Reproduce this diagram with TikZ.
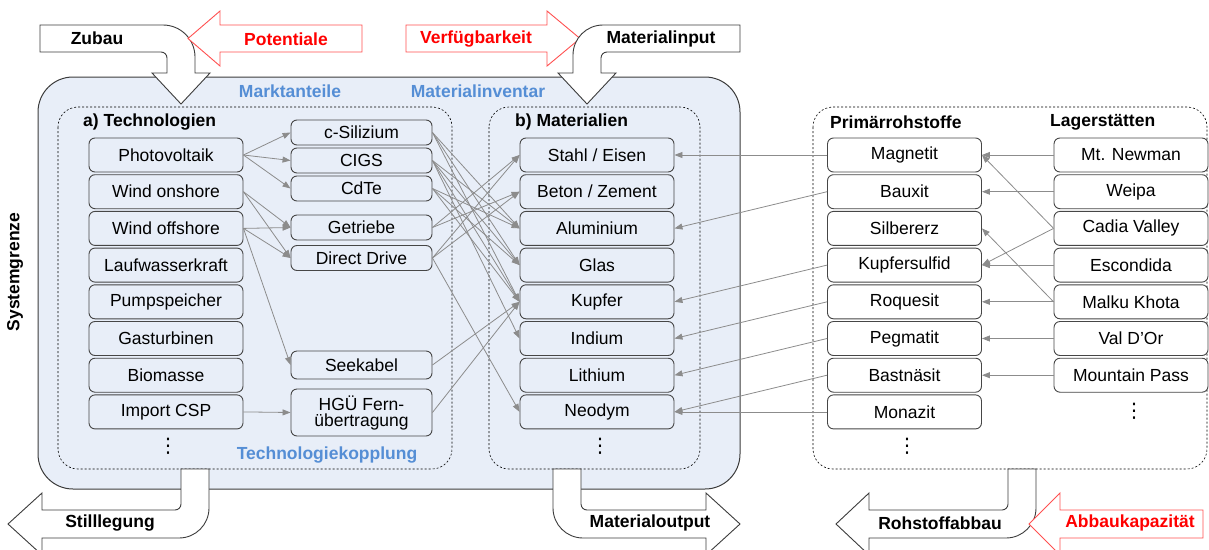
\documentclass[tikz,border=0pt]{standalone}
\usepackage{fontspec}
\setmainfont{Liberation Sans}
\newfontfamily\dejavu{DejaVu Sans}
\usetikzlibrary{arrows.meta}
\definecolor{bluebg}{RGB}{232,238,248}
\definecolor{nodeborder}{RGB}{70,70,70}
\definecolor{bluetxt}{RGB}{85,142,213}
\definecolor{congray}{RGB}{140,140,140}
\definecolor{redline}{RGB}{255,80,80}
\definecolor{redtxt}{RGB}{255,0,0}
\definecolor{darkline}{RGB}{60,60,60}
\newcommand\fs{\fontsize{17.5}{16}\selectfont}
\tikzset{
  tech/.style={draw=nodeborder, fill=bluebg, rounded corners=6pt, minimum width=154pt, minimum height=34pt, inner sep=0pt, font=\fs, line width=0.9pt, align=center},
  subt/.style={tech, minimum width=141pt, minimum height=25pt},
  raw/.style={tech, fill=white},
  con/.style={draw=congray, line width=0.8pt, -{Triangle[length=8pt,width=6pt]}},
  hd/.style={font=\fs\bfseries, anchor=west, inner sep=0pt},
  blu/.style={font=\fs\bfseries, text=bluetxt, inner sep=0pt},
  lbl/.style={font=\fs\bfseries, inner sep=0pt},
  rlbl/.style={font=\fs\bfseries, text=redtxt, inner sep=0pt},
  blk/.style={draw=darkline, fill=white, line width=0.9pt, line join=miter},
  redarrow/.style={draw=redline, fill=white, line width=0.9pt},
  dbox/.style={draw=black, line width=0.6pt, dash pattern=on 2pt off 2pt, rounded corners=20pt},
  dots/.style={font=\dejavu\fontsize{20}{20}\selectfont, inner sep=0pt},
}
\begin{document}
\begin{tikzpicture}[x=1pt,y=-1pt]
\path[use as bounding box] (0,0) rectangle (1209,549);
\clip (0,0) rectangle (1209,549);

% system boundary box
\draw[draw=darkline, fill=bluebg, line width=1pt, rounded corners=35pt] (38,77) rectangle (740,489);
\draw[dbox] (58,107) rectangle (452,469);
\draw[dbox] (489,107) rectangle (700,469);
\draw[dbox] (813,107) rectangle (1207,469);

\node[lbl, rotate=90] (sys) at (15,272) {Systemgrenze};
\node[blu] (markt) at (290,91) {Marktanteile};
\node[blu] (inv) at (478,91) {Materialinventar};
\node[blu] (kopp) at (327,455) {Technologiekopplung};

% top arrows
\draw[blk] (40,25) -- (163,25) .. controls (180.7,25) and (195,39.3) .. (195,57) -- (195,73) -- (210,73) -- (181,104) -- (152,73) -- (167,73) -- (167,58) .. controls (167,54.7) and (164.3,52) .. (161,52) -- (40,52) -- cycle;
\node[lbl] (zubau) at (97,38) {Zubau};
\draw[redarrow] (362,25) -- (220,25) -- (220,11) -- (188,38.5) -- (220,66) -- (220,52) -- (362,52) -- cycle;
\node[rlbl] (pot) at (286,39) {Potentiale};
\draw[redarrow] (406,25) -- (547,25) -- (547,11) -- (580,38.5) -- (547,66) -- (547,52) -- (406,52) -- cycle;
\node[rlbl] (verf) at (476,39) {Verfügbarkeit};
\draw[blk] (740,25) -- (603,25) .. controls (586.4,25) and (573,38.4) .. (573,55) -- (573,73) -- (558,73) -- (587,104) -- (616,73) -- (601,73) -- (601,58) .. controls (601,54.7) and (603.7,52) .. (607,52) -- (740,52) -- cycle;
\node[lbl] (minput) at (661,39) {Materialinput};

% bottom arrows
\draw[blk] (181,469) -- (209,469) -- (209,508) .. controls (209,524.6) and (195.6,538) .. (179,538) -- (42,538) -- (42,555) -- (8,524) -- (42,493) -- (42,510) -- (175,510) .. controls (178.3,510) and (181,507.3) .. (181,504) -- cycle;
\node[lbl] (still) at (110,523) {Stilllegung};
\draw[blk] (581,469) -- (553,469) -- (553,508) .. controls (553,524.6) and (566.4,538) .. (583,538) -- (706,538) -- (706,555) -- (740,524) -- (706,493) -- (706,510) -- (587,510) .. controls (583.7,510) and (581,507.3) .. (581,504) -- cycle;
\node[lbl] (moutput) at (650,523) {Materialoutput};
\draw[blk] (1008,469) -- (1036,469) -- (1036,508) .. controls (1036,524.6) and (1022.6,538) .. (1006,538) -- (869,538) -- (869,555) -- (836,524) -- (869,493) -- (869,510) -- (1002,510) .. controls (1005.3,510) and (1008,507.3) .. (1008,504) -- cycle;
\node[lbl] (abbau) at (940,523) {Rohstoffabbau};
\draw[redarrow] (1203,510) -- (1060,510) -- (1060,493) -- (1029,524) -- (1060,555) -- (1060,538) -- (1203,538) -- cycle;
\node[rlbl] (kap) at (1130,523) {Abbaukapazität};

% headings
\node[hd] (ha) at (83,122) {a) Technologien};
\node[hd] (hb) at (515,122) {b) Materialien};
\node[hd] (hc) at (830,122) {Primärrohstoffe};
\node[hd] (hd) at (1050,122) {Lagerstätten};

% technologies
\node[tech] (pv) at (166,155) {Photovoltaik};
\node[tech] (won) at (166,191.7) {Wind onshore};
\node[tech] (woff) at (166,228.4) {Wind offshore};
\node[tech] (lauf) at (166,265.1) {Laufwasserkraft};
\node[tech] (pump) at (166,301.8) {Pumpspeicher};
\node[tech] (gas) at (166,338.5) {Gasturbinen};
\node[tech] (bio) at (166,375.2) {Biomasse};
\node[tech] (csp) at (166,411.9) {Import CSP};
\node[dots] (tdots) at (168,446) {⋮};

% sub technologies
\node[subt] (csi) at (361.5,132.5) {c-Silizium};
\node[subt] (cigs) at (361.5,160.5) {CIGS};
\node[subt] (cdte) at (361.5,188.5) {CdTe};
\node[subt] (getr) at (361.5,227.5) {Getriebe};
\node[subt] (dd) at (361.5,258) {Direct Drive};
\node[subt, minimum height=28pt] (see) at (361.5,365) {Seekabel};
\node[subt, minimum height=47pt] (hgu) at (361.5,412.5) {HGÜ Fern-\\übertragung};

% materials
\node[tech] (stahl) at (597,155) {Stahl / Eisen};
\node[tech] (beton) at (597,191.7) {Beton / Zement};
\node[tech] (alu) at (597,228.4) {Aluminium};
\node[tech] (glas) at (597,265.1) {Glas};
\node[tech] (kupf) at (597,301.8) {Kupfer};
\node[tech] (ind) at (597,338.5) {Indium};
\node[tech] (lith) at (597,375.2) {Lithium};
\node[tech] (neo) at (597,411.9) {Neodym};
\node[dots] (mdots) at (600,446) {⋮};

% raw materials
\node[raw] (magn) at (904.5,155) {Magnetit};
\node[raw] (baux) at (904.5,191.7) {Bauxit};
\node[raw] (silb) at (904.5,228.4) {Silbererz};
\node[raw] (ksulf) at (904.5,265.1) {Kupfersulfid};
\node[raw] (roq) at (904.5,301.8) {Roquesit};
\node[raw] (peg) at (904.5,338.5) {Pegmatit};
\node[raw] (bast) at (904.5,375.2) {Bastnäsit};
\node[raw] (mona) at (904.5,411.9) {Monazit};
\node[dots] (rdots) at (907,446) {⋮};

% deposits
\node[raw] (newm) at (1131,155) {Mt. Newman};
\node[raw] (weipa) at (1131,191.7) {Weipa};
\node[raw] (cadia) at (1131,228.4) {Cadia Valley};
\node[raw] (escon) at (1131,265.1) {Escondida};
\node[raw] (malku) at (1131,301.8) {Malku Khota};
\node[raw] (valdor) at (1131,338.5) {Val D'Or};
\node[raw] (mpass) at (1131,375.2) {Mountain Pass};
\node[dots] (ldots) at (1134,411) {⋮};

% tech -> sub
\draw[con] (pv.east) -- (csi.west);
\draw[con] (pv.east) -- (cigs.west);
\draw[con] (pv.east) -- (cdte.west);
\draw[con] (won.east) -- (getr.west);
\draw[con] (won.east) -- (dd.west);
\draw[con] (woff.east) -- (getr.west);
\draw[con] (woff.east) -- (dd.west);
\draw[con] (woff.east) -- (see.west);
\draw[con] (csp.east) -- (hgu.west);

% sub -> materials
\foreach \s in {csi,cigs,cdte}{
  \draw[con] (\s.east) -- (alu.west);
  \draw[con] (\s.east) -- (glas.west);
  \draw[con] (\s.east) -- (kupf.west);
}
\draw[con] (cigs.east) -- (ind.west);
\draw[con] (getr.east) -- (stahl.west);
\draw[con] (getr.east) -- (beton.west);
\draw[con] (dd.east) -- (stahl.west);
\draw[con] (dd.east) -- (beton.west);
\draw[con] (dd.east) -- (neo.west);
\draw[con] (see.east) -- (kupf.west);
\draw[con] (hgu.east) -- (kupf.west);

% raw -> materials
\draw[con] (magn.west) -- (stahl.east);
\draw[con] (baux.west) -- (alu.east);
\draw[con] (ksulf.west) -- (kupf.east);
\draw[con] (roq.west) -- (ind.east);
\draw[con] (peg.west) -- (lith.east);
\draw[con] (bast.west) -- (neo.east);
\draw[con] (mona.west) -- (neo.east);

% deposits -> raw
\draw[con] (newm.west) -- (magn.east);
\draw[con] (weipa.west) -- (baux.east);
\draw[con] (cadia.west) -- (magn.east);
\draw[con] (cadia.west) -- (ksulf.east);
\draw[con] (escon.west) -- (ksulf.east);
\draw[con] (malku.west) -- (silb.east);
\draw[con] (malku.west) -- (roq.east);
\draw[con] (valdor.west) -- (peg.east);
\draw[con] (mpass.west) -- (bast.east);
\end{tikzpicture}
\end{document}
